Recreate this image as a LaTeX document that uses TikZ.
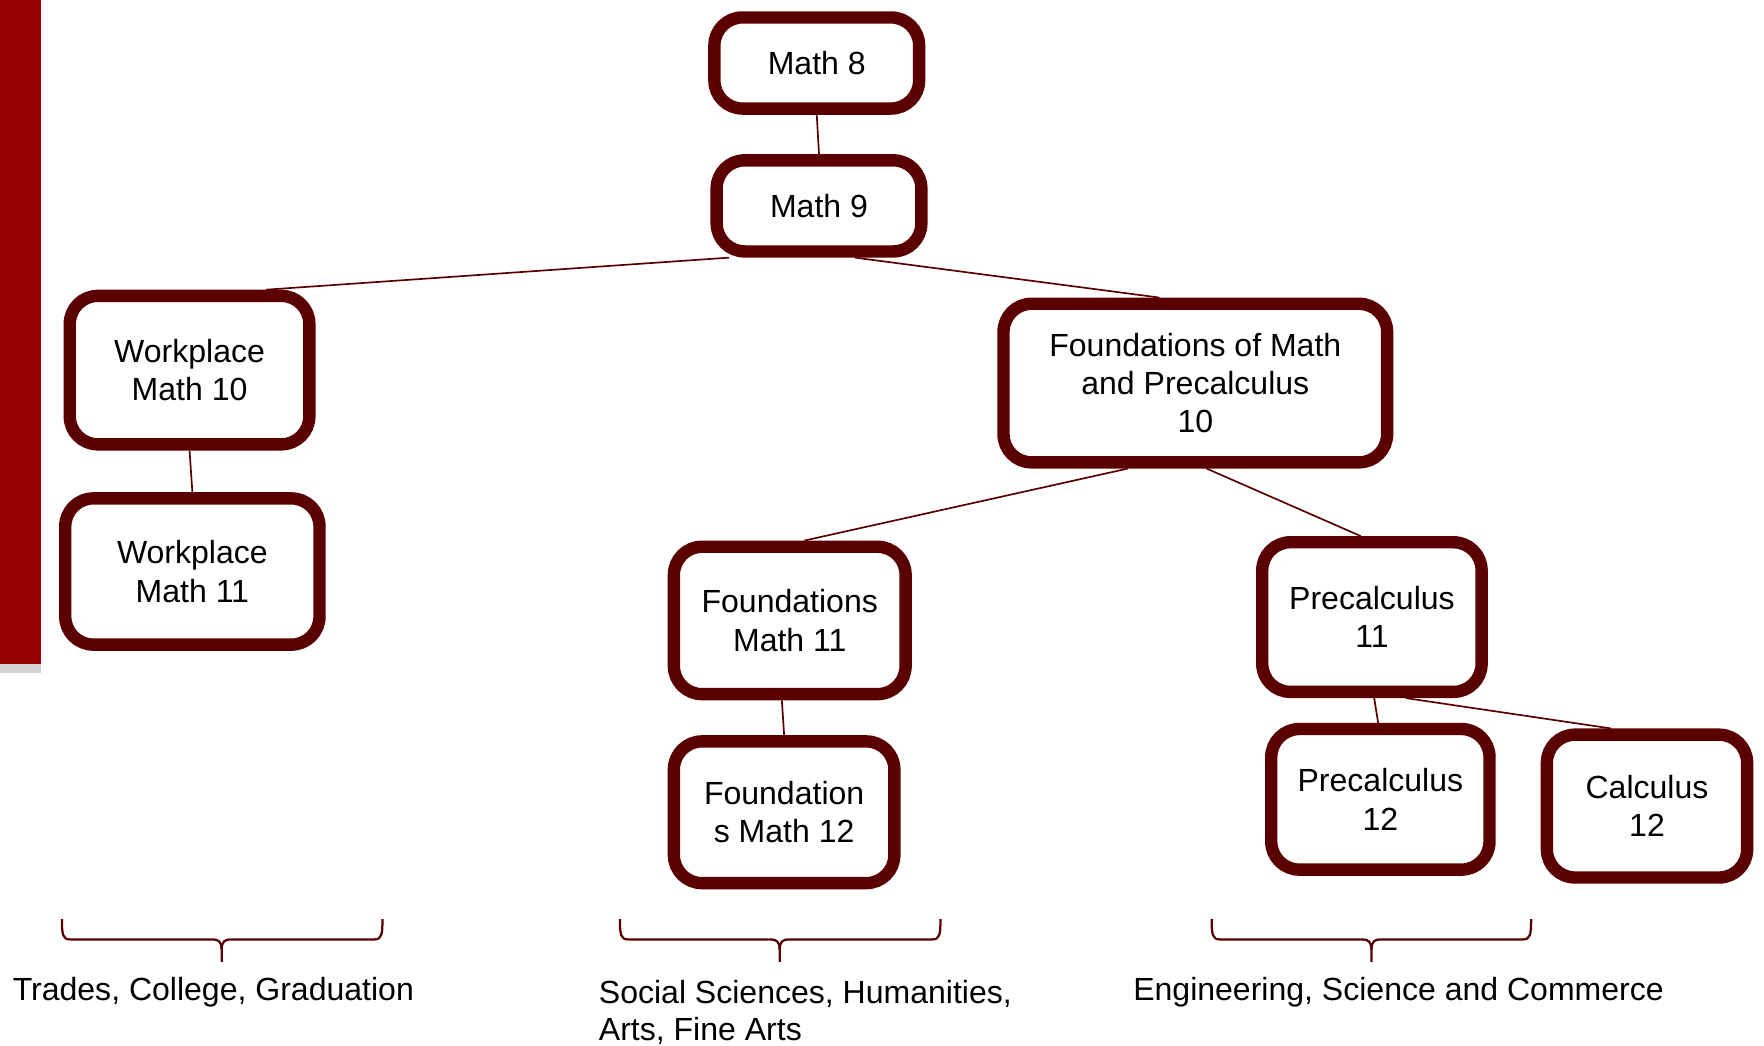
\documentclass[tikz,border=0pt]{standalone}
\usepackage{fontspec}
\setmainfont{Liberation Sans}
\usetikzlibrary{calc}
\definecolor{boxred}{RGB}{90,0,0}
\definecolor{barred}{RGB}{153,0,0}
\tikzset{
	course/.style={draw=boxred,line width=2.2mm,rounded corners=5mm,fill=white,align=center,inner sep=0pt,font=\fontsize{16.2}{19.4}\selectfont},
	link/.style={draw=boxred,line width=0.3mm},
	bracket/.style={draw=boxred,line width=0.4mm},
	caption/.style={inner sep=0pt,align=left,font=\fontsize{16.2}{19}\selectfont}
}
% brace from #1 to #3 with its tip at #2
\newcommand{\coursebrace}[3]{%
	\draw[bracket] (#1,817) .. controls (#1,831) and (#1+1,835) .. (#1+7,835) -- (#2-8,835)
		.. controls (#2-3,835) and (#2,837) .. (#2,844) -- (#2,855);
	\draw[bracket] (#2,844) .. controls (#2,837) and (#2+3,835) .. (#2+8,835) -- (#3-7,835)
		.. controls (#3-1,835) and (#3,831) .. (#3,817);
}
\begin{document}
\begin{tikzpicture}[x=0.2mm,y=-0.2mm]
	\useasboundingbox (0,0) rectangle (1568,929);
	% side bar
	\fill[barred] (0,0) rectangle (36,590);
	\fill[gray!35] (0,590) rectangle (36,598);
	% courses
	\node[course,minimum width=36.4mm,minimum height=16.2mm] (m8) at (726,56) {Math 8};
	\node[course,minimum width=36.4mm,minimum height=16.2mm] (m9) at (728,183) {Math 9};
	\node[course,minimum width=42.6mm,minimum height=26.4mm] (wm10) at (168.5,329) {Workplace\\Math 10};
	\node[course,minimum width=45.2mm,minimum height=26mm] (wm11) at (171,508) {Workplace\\Math 11};
	\node[course,minimum width=68.2mm,minimum height=28.2mm] (fp10) at (1062.5,340.5) {Foundations of Math\\and Precalculus\\10};
	\node[course,minimum width=41.2mm,minimum height=26.2mm] (fm11) at (702,551.5) {Foundations\\Math 11};
	\node[course,minimum width=39.2mm,minimum height=25.2mm] (fm12) at (697,722) {Foundation\\s Math 12};
	\node[course,minimum width=39mm,minimum height=26.6mm] (pc11) at (1219.5,548.5) {Precalculus\\11};
	\node[course,minimum width=38.8mm,minimum height=25mm] (pc12) at (1227,710.5) {Precalculus\\12};
	\node[course,minimum width=35.6mm,minimum height=25.4mm] (c12) at (1464,716.5) {Calculus\\12};
	% links
	\draw[link] (m8.south) -- (m9.north);
	\draw[link] ($(m9.south)+(-80,0)$) -- ($(wm10.north)+(68,0)$);
	\draw[link] ($(m9.south)+(32,0)$) -- ($(fp10.north)+(-32,0)$);
	\draw[link] (wm10.south) -- (wm11.north);
	\draw[link] ($(fp10.south)+(-60,0)$) -- ($(fm11.north)+(13,0)$);
	\draw[link] ($(fp10.south)+(10,0)$) -- ($(pc11.north)+(-10,0)$);
	\draw[link] ($(fm11.south)+(-7,0)$) -- (fm12.north);
	\draw[link] ($(pc11.south)+(2,0)$) -- ($(pc12.north)+(-2,0)$);
	\draw[link] ($(pc11.south)+(30,0)$) -- ($(c12.north)+(-32,0)$);
	% braces
	\coursebrace{55}{197}{340}
	\coursebrace{551}{693}{836}
	\coursebrace{1077}{1219}{1361}
	\node[caption,anchor=west] (trades) at (11,882) {Trades, College, Graduation};
	\node[caption,anchor=west] (social) at (532,900) {Social Sciences, Humanities,\\Arts, Fine Arts};
	\node[caption,anchor=west] (engin) at (1007,882) {Engineering, Science and Commerce};
\end{tikzpicture}
\end{document}
